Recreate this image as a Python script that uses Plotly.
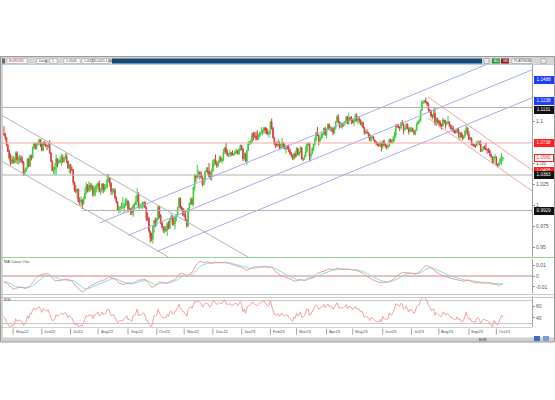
import plotly.graph_objects as go
import pandas as pd

# ---------------- data: EUR/USD daily candles ----------------
start_date = "2022-04-21"

# closes before the first drawn bar (Mar 1 - Apr 20 2022), only used to warm up the indicators
warmup_closes = [
    1.112, 1.112, 1.106, 1.093, 1.086, 1.090, 1.107, 1.098, 1.091, 1.094, 1.095, 1.104, 1.109, 1.105,
    1.102, 1.102, 1.100, 1.100, 1.098, 1.098, 1.109, 1.116, 1.107, 1.105, 1.097, 1.091, 1.090, 1.088,
    1.088, 1.089, 1.083, 1.089, 1.081, 1.081, 1.078, 1.079, 1.085,
]

opens = [
    1.085, 1.084, 1.080, 1.071, 1.064, 1.056, 1.050,
    1.054, 1.051, 1.053, 1.062, 1.054, 1.055, 1.056, 1.053, 1.051, 1.038, 1.041, 1.044, 1.055, 1.046, 1.059, 1.056, 1.069, 1.073, 1.068, 1.073, 1.073, 1.078,
    1.073, 1.065, 1.075, 1.072, 1.070, 1.070, 1.072, 1.062, 1.052, 1.041, 1.042, 1.045, 1.055, 1.050, 1.051, 1.054, 1.057, 1.052, 1.055, 1.058, 1.052, 1.044,
    1.048, 1.043, 1.042, 1.027, 1.018, 1.016, 1.019, 1.004, 1.004, 1.006, 1.002, 1.008, 1.014, 1.023, 1.018, 1.023, 1.021, 1.022, 1.012, 1.020, 1.020,
    1.022, 1.026, 1.016, 1.019, 1.025, 1.018, 1.020, 1.021, 1.030, 1.032, 1.026, 1.016, 1.017, 1.018, 1.009, 1.004, 0.994, 0.997, 0.997, 0.997, 0.997, 1.000, 1.002,
    1.005, 0.995, 0.996, 0.993, 0.991, 1.000, 1.000, 1.004, 1.012, 0.997, 0.998, 1.000, 1.001, 1.003, 0.997, 0.984, 0.984, 0.969, 0.961, 0.959, 0.974, 0.982,
    0.980, 0.983, 0.998, 0.988, 0.979, 0.974, 0.970, 0.971, 0.970, 0.978, 0.972, 0.984, 0.986, 0.978, 0.978, 0.986, 0.988, 0.997, 1.008, 0.997, 0.996,
    0.988, 0.988, 0.982, 0.975, 0.996, 1.002, 1.007, 1.001, 1.021, 1.035, 1.033, 1.035, 1.039, 1.036, 1.033, 1.024, 1.031, 1.040, 1.041, 1.040, 1.034, 1.033,
    1.041, 1.052, 1.054, 1.049, 1.047, 1.051, 1.056, 1.053, 1.054, 1.063, 1.068, 1.063, 1.059, 1.061, 1.062, 1.060, 1.060, 1.061, 1.064, 1.064, 1.061, 1.066,
    1.071, 1.067, 1.055, 1.061, 1.052, 1.065, 1.073, 1.074, 1.076, 1.085, 1.083, 1.082, 1.079, 1.079, 1.083, 1.086, 1.087, 1.089, 1.092, 1.089, 1.087, 1.085,
    1.086, 1.099, 1.091, 1.080, 1.073, 1.073, 1.071, 1.074, 1.068, 1.072, 1.074, 1.069, 1.067, 1.070, 1.069, 1.065, 1.061, 1.059, 1.055, 1.061,
    1.058, 1.067, 1.060, 1.063, 1.068, 1.055, 1.055, 1.058, 1.064, 1.073, 1.073, 1.058, 1.061, 1.067, 1.072, 1.077, 1.086, 1.083, 1.076, 1.080, 1.084, 1.084, 1.091,
    1.084, 1.090, 1.096, 1.091, 1.092, 1.091, 1.086, 1.092, 1.099, 1.105, 1.099, 1.093, 1.097, 1.096, 1.097, 1.099, 1.105, 1.097, 1.104, 1.103,
    1.102, 1.098, 1.100, 1.106, 1.101, 1.102, 1.101, 1.096, 1.098, 1.092, 1.085, 1.087, 1.086, 1.084, 1.077, 1.081, 1.081, 1.077, 1.075, 1.073, 1.072, 1.071, 1.074,
    1.069, 1.076, 1.071, 1.071, 1.069, 1.070, 1.078, 1.075, 1.075, 1.079, 1.083, 1.095, 1.094, 1.092, 1.092, 1.098, 1.096, 1.090, 1.091, 1.096, 1.091, 1.087,
    1.091, 1.091, 1.088, 1.085, 1.089, 1.097, 1.100, 1.101, 1.113, 1.123, 1.123, 1.124, 1.122, 1.120, 1.113, 1.112, 1.106, 1.106, 1.109, 1.097, 1.102,
    1.100, 1.098, 1.094, 1.094, 1.101, 1.100, 1.096, 1.097, 1.098, 1.095, 1.091, 1.091, 1.088, 1.087, 1.087, 1.090, 1.085, 1.086, 1.081, 1.080, 1.082, 1.088, 1.092,
    1.084, 1.078, 1.080, 1.072, 1.072, 1.070, 1.070, 1.075, 1.075, 1.073, 1.064, 1.066, 1.069, 1.068, 1.066, 1.066, 1.065, 1.060, 1.057, 1.050, 1.057,
    1.057, 1.048, 1.047, 1.050, 1.055, 1.055,
]

highs = [
    1.094, 1.086, 1.081, 1.073, 1.066, 1.061, 1.059,
    1.058, 1.057, 1.064, 1.064, 1.058, 1.060, 1.059, 1.058, 1.052, 1.043, 1.045, 1.056, 1.056, 1.060, 1.060, 1.069, 1.075, 1.074, 1.074, 1.076, 1.079, 1.078,
    1.074, 1.075, 1.076, 1.075, 1.072, 1.075, 1.077, 1.063, 1.053, 1.046, 1.050, 1.060, 1.056, 1.054, 1.058, 1.061, 1.060, 1.057, 1.062, 1.061, 1.053, 1.049,
    1.049, 1.046, 1.043, 1.028, 1.024, 1.020, 1.019, 1.009, 1.010, 1.007, 1.010, 1.020, 1.027, 1.025, 1.028, 1.026, 1.026, 1.024, 1.023, 1.023, 1.025,
    1.027, 1.029, 1.020, 1.026, 1.026, 1.025, 1.025, 1.037, 1.037, 1.033, 1.027, 1.020, 1.020, 1.020, 1.010, 1.004, 0.999, 0.999, 1.003, 1.009, 1.003, 1.008, 1.008,
    1.005, 1.003, 0.996, 0.998, 1.001, 1.003, 1.011, 1.020, 1.015, 1.002, 1.002, 1.004, 1.004, 1.005, 0.998, 0.991, 0.986, 0.969, 0.967, 0.976, 0.982, 0.985,
    0.985, 0.999, 0.999, 0.989, 0.981, 0.974, 0.975, 0.975, 0.980, 0.981, 0.985, 0.990, 0.988, 0.985, 0.987, 0.989, 0.998, 1.009, 1.009, 0.999, 0.997,
    0.995, 0.993, 0.983, 0.997, 1.003, 1.009, 1.009, 1.022, 1.037, 1.036, 1.048, 1.042, 1.040, 1.040, 1.034, 1.032, 1.041, 1.045, 1.045, 1.050, 1.040, 1.043,
    1.054, 1.055, 1.060, 1.052, 1.053, 1.058, 1.059, 1.057, 1.067, 1.069, 1.074, 1.066, 1.062, 1.066, 1.063, 1.065, 1.062, 1.065, 1.067, 1.066, 1.068, 1.072,
    1.071, 1.068, 1.063, 1.062, 1.066, 1.076, 1.076, 1.078, 1.086, 1.087, 1.087, 1.087, 1.089, 1.085, 1.087, 1.093, 1.090, 1.093, 1.093, 1.092, 1.091, 1.088,
    1.100, 1.103, 1.093, 1.080, 1.075, 1.076, 1.079, 1.076, 1.073, 1.080, 1.075, 1.073, 1.071, 1.071, 1.072, 1.067, 1.063, 1.060, 1.062, 1.064,
    1.069, 1.068, 1.064, 1.070, 1.069, 1.056, 1.060, 1.070, 1.074, 1.075, 1.074, 1.062, 1.069, 1.073, 1.080, 1.087, 1.093, 1.084, 1.081, 1.086, 1.086, 1.092, 1.093,
    1.091, 1.097, 1.097, 1.094, 1.093, 1.092, 1.093, 1.100, 1.107, 1.108, 1.099, 1.099, 1.098, 1.099, 1.100, 1.106, 1.106, 1.110, 1.105, 1.106,
    1.103, 1.103, 1.109, 1.109, 1.106, 1.105, 1.102, 1.100, 1.099, 1.093, 1.089, 1.090, 1.087, 1.085, 1.083, 1.083, 1.082, 1.078, 1.076, 1.075, 1.074, 1.076, 1.074,
    1.077, 1.078, 1.074, 1.072, 1.072, 1.079, 1.079, 1.078, 1.082, 1.087, 1.096, 1.097, 1.095, 1.094, 1.099, 1.101, 1.097, 1.093, 1.098, 1.097, 1.093, 1.093,
    1.093, 1.092, 1.089, 1.090, 1.098, 1.100, 1.103, 1.113, 1.124, 1.125, 1.125, 1.128, 1.123, 1.122, 1.114, 1.113, 1.108, 1.115, 1.115, 1.105, 1.104,
    1.101, 1.101, 1.097, 1.104, 1.102, 1.101, 1.100, 1.106, 1.100, 1.096, 1.095, 1.094, 1.089, 1.090, 1.091, 1.092, 1.087, 1.087, 1.085, 1.083, 1.089, 1.095, 1.092,
    1.088, 1.081, 1.080, 1.074, 1.073, 1.072, 1.076, 1.077, 1.076, 1.077, 1.067, 1.070, 1.071, 1.074, 1.067, 1.068, 1.066, 1.061, 1.058, 1.058, 1.061,
    1.058, 1.049, 1.051, 1.056, 1.062, 1.057,
]

lows = [
    1.082, 1.077, 1.070, 1.063, 1.054, 1.047, 1.049,
    1.049, 1.049, 1.050, 1.049, 1.048, 1.050, 1.050, 1.049, 1.035, 1.035, 1.039, 1.043, 1.045, 1.046, 1.053, 1.056, 1.066, 1.066, 1.066, 1.071, 1.071, 1.069,
    1.064, 1.064, 1.071, 1.069, 1.065, 1.068, 1.061, 1.051, 1.040, 1.037, 1.036, 1.036, 1.045, 1.049, 1.050, 1.047, 1.050, 1.050, 1.055, 1.050, 1.043, 1.038,
    1.037, 1.040, 1.024, 1.016, 1.014, 1.007, 1.003, 1.000, 0.999, 0.995, 1.000, 1.007, 1.013, 1.015, 1.015, 1.016, 1.018, 1.010, 1.010, 1.011, 1.015,
    1.018, 1.015, 1.012, 1.015, 1.014, 1.016, 1.018, 1.020, 1.027, 1.022, 1.012, 1.012, 1.014, 1.007, 1.002, 0.993, 0.990, 0.991, 0.995, 0.995, 0.990, 0.998, 0.999,
    0.991, 0.994, 0.988, 0.988, 0.986, 0.993, 1.000, 1.004, 0.996, 0.995, 0.996, 0.995, 0.997, 0.996, 0.981, 0.981, 0.967, 0.955, 0.957, 0.954, 0.967, 0.974,
    0.975, 0.982, 0.984, 0.977, 0.972, 0.967, 0.966, 0.968, 0.963, 0.971, 0.972, 0.982, 0.976, 0.975, 0.971, 0.981, 0.986, 0.996, 0.995, 0.993, 0.987,
    0.985, 0.981, 0.973, 0.974, 0.992, 1.000, 1.000, 0.998, 1.017, 1.027, 1.031, 1.033, 1.030, 1.032, 1.022, 1.024, 1.027, 1.039, 1.037, 1.033, 1.030, 1.029,
    1.039, 1.046, 1.048, 1.044, 1.045, 1.050, 1.051, 1.049, 1.052, 1.061, 1.060, 1.058, 1.057, 1.057, 1.058, 1.059, 1.058, 1.060, 1.061, 1.060, 1.060, 1.064,
    1.065, 1.052, 1.054, 1.051, 1.048, 1.064, 1.071, 1.072, 1.073, 1.077, 1.080, 1.077, 1.077, 1.078, 1.081, 1.085, 1.083, 1.085, 1.085, 1.084, 1.083, 1.080,
    1.084, 1.090, 1.079, 1.071, 1.068, 1.069, 1.070, 1.066, 1.066, 1.068, 1.067, 1.066, 1.061, 1.066, 1.063, 1.060, 1.057, 1.054, 1.053, 1.056,
    1.057, 1.059, 1.058, 1.062, 1.054, 1.052, 1.054, 1.057, 1.062, 1.070, 1.052, 1.054, 1.060, 1.064, 1.070, 1.076, 1.082, 1.071, 1.075, 1.078, 1.080, 1.083, 1.082,
    1.079, 1.089, 1.089, 1.088, 1.087, 1.083, 1.085, 1.090, 1.098, 1.097, 1.091, 1.092, 1.091, 1.093, 1.094, 1.097, 1.096, 1.096, 1.100, 1.096,
    1.097, 1.094, 1.099, 1.099, 1.096, 1.098, 1.095, 1.093, 1.091, 1.084, 1.084, 1.085, 1.080, 1.076, 1.075, 1.079, 1.076, 1.074, 1.071, 1.070, 1.069, 1.069, 1.064,
    1.067, 1.070, 1.068, 1.066, 1.067, 1.069, 1.074, 1.073, 1.074, 1.076, 1.080, 1.092, 1.091, 1.088, 1.090, 1.095, 1.084, 1.088, 1.090, 1.090, 1.084, 1.087,
    1.087, 1.087, 1.083, 1.083, 1.088, 1.095, 1.097, 1.099, 1.112, 1.120, 1.121, 1.121, 1.118, 1.111, 1.110, 1.104, 1.102, 1.104, 1.095, 1.094, 1.097,
    1.094, 1.092, 1.090, 1.093, 1.097, 1.091, 1.095, 1.097, 1.093, 1.090, 1.088, 1.086, 1.085, 1.085, 1.086, 1.080, 1.077, 1.080, 1.077, 1.078, 1.080, 1.085, 1.083,
    1.077, 1.077, 1.071, 1.070, 1.069, 1.068, 1.070, 1.072, 1.071, 1.063, 1.063, 1.065, 1.066, 1.065, 1.061, 1.062, 1.058, 1.057, 1.049, 1.049, 1.055,
    1.047, 1.045, 1.046, 1.049, 1.048, 1.052,
]

closes = [
    1.084, 1.080, 1.071, 1.064, 1.056, 1.050, 1.054,
    1.051, 1.053, 1.062, 1.054, 1.055, 1.056, 1.053, 1.051, 1.038, 1.041, 1.044, 1.055, 1.046, 1.059, 1.056, 1.069, 1.073, 1.068, 1.073, 1.073, 1.078, 1.073,
    1.065, 1.075, 1.072, 1.070, 1.070, 1.072, 1.062, 1.052, 1.041, 1.042, 1.045, 1.055, 1.050, 1.051, 1.054, 1.057, 1.052, 1.055, 1.058, 1.052, 1.044, 1.048,
    1.043, 1.042, 1.027, 1.018, 1.016, 1.019, 1.004, 1.004, 1.006, 1.002, 1.008, 1.014, 1.023, 1.018, 1.023, 1.021, 1.022, 1.012, 1.020, 1.020, 1.022,
    1.026, 1.016, 1.019, 1.025, 1.018, 1.020, 1.021, 1.030, 1.032, 1.026, 1.016, 1.017, 1.018, 1.009, 1.004, 0.994, 0.997, 0.997, 0.997, 0.997, 1.000, 1.002, 1.005,
    0.995, 0.996, 0.993, 0.991, 1.000, 1.000, 1.004, 1.012, 0.997, 0.998, 1.000, 1.001, 1.003, 0.997, 0.984, 0.984, 0.969, 0.961, 0.959, 0.974, 0.982, 0.980,
    0.983, 0.998, 0.988, 0.979, 0.974, 0.970, 0.971, 0.970, 0.978, 0.972, 0.984, 0.986, 0.978, 0.978, 0.986, 0.988, 0.997, 1.008, 0.997, 0.996, 0.988,
    0.988, 0.982, 0.975, 0.996, 1.002, 1.007, 1.001, 1.021, 1.035, 1.033, 1.035, 1.039, 1.036, 1.033, 1.024, 1.031, 1.040, 1.041, 1.040, 1.034, 1.033, 1.041,
    1.052, 1.054, 1.049, 1.047, 1.051, 1.056, 1.053, 1.054, 1.063, 1.068, 1.063, 1.059, 1.061, 1.062, 1.060, 1.060, 1.061, 1.064, 1.064, 1.061, 1.066, 1.071,
    1.067, 1.055, 1.061, 1.052, 1.065, 1.073, 1.074, 1.076, 1.085, 1.083, 1.082, 1.079, 1.079, 1.083, 1.086, 1.087, 1.089, 1.092, 1.089, 1.087, 1.085, 1.086,
    1.099, 1.091, 1.080, 1.073, 1.073, 1.071, 1.074, 1.068, 1.072, 1.074, 1.069, 1.067, 1.070, 1.069, 1.065, 1.061, 1.059, 1.055, 1.061, 1.058,
    1.067, 1.060, 1.063, 1.068, 1.055, 1.055, 1.058, 1.064, 1.073, 1.073, 1.058, 1.061, 1.067, 1.072, 1.077, 1.086, 1.083, 1.076, 1.080, 1.084, 1.084, 1.091, 1.084,
    1.090, 1.096, 1.091, 1.092, 1.091, 1.086, 1.092, 1.099, 1.105, 1.099, 1.093, 1.097, 1.096, 1.097, 1.099, 1.105, 1.097, 1.104, 1.103, 1.102,
    1.098, 1.100, 1.106, 1.101, 1.102, 1.101, 1.096, 1.098, 1.092, 1.085, 1.087, 1.086, 1.084, 1.077, 1.081, 1.081, 1.077, 1.075, 1.073, 1.072, 1.071, 1.074, 1.069,
    1.076, 1.071, 1.071, 1.069, 1.070, 1.078, 1.075, 1.075, 1.079, 1.083, 1.095, 1.094, 1.092, 1.092, 1.098, 1.096, 1.090, 1.091, 1.096, 1.091, 1.087, 1.091,
    1.091, 1.088, 1.085, 1.089, 1.097, 1.100, 1.101, 1.113, 1.123, 1.123, 1.124, 1.122, 1.120, 1.113, 1.112, 1.106, 1.106, 1.109, 1.097, 1.102, 1.100,
    1.098, 1.094, 1.094, 1.101, 1.100, 1.096, 1.097, 1.098, 1.095, 1.091, 1.091, 1.088, 1.087, 1.087, 1.090, 1.085, 1.086, 1.081, 1.080, 1.082, 1.088, 1.092, 1.084,
    1.078, 1.080, 1.072, 1.072, 1.070, 1.070, 1.075, 1.075, 1.073, 1.064, 1.066, 1.069, 1.068, 1.066, 1.066, 1.065, 1.060, 1.057, 1.050, 1.057, 1.057,
    1.048, 1.047, 1.050, 1.055, 1.059, 1.056,
]

# month labels of the time axis
month_labels = ["May22", "Jun22", "Jul22", "Aug22", "Sep22", "Oct22", "Nov22", "Dec22", "Jan23",
                "Feb23", "Mar23", "Apr23", "May23", "Jun23", "Jul23", "Aug23", "Sep23", "Oct23"]

# price-axis ticks (the 1.075 / 1.125 / 1.15 labels sit under the price boxes)
price_ticks = [0.95, 0.975, 1.0, 1.025, 1.05, 1.1]
price_tick_text = ["0.95", "0.975", "1", "1.025", "1.05", "1.1"]
osc_ticks = [-0.01, 0.0, 0.01]
osc_tick_text = ["-0.01", "0", "0.01"]
rsi_ticks = [40, 60]
rsi_tick_text = ["40", "60"]
rsi_levels = [30, 70]
osc_zero = 0.0

# drawn trend lines: (bar index, price) end points
down_channel_x = [[-1.5, 187.0], [-1.5, 126.0]]
down_channel_y = [[1.1066, 0.9380], [1.0519, 0.9380]]
up_channel_x = [[73.5, 372.2], [94.9, 404.3], [117.2, 404.3]]
up_channel_y = [[0.9788, 1.1690], [0.9638, 1.1609], [0.9447, 1.1276]]
pink_channel_x = [[324.7, 404.3], [324.7, 404.3]]
pink_channel_y = [[1.1286, 1.0417], [1.1036, 1.0167]]
# horizontal levels: price, first bar index, colour key
level_prices = [1.1161, 1.0738, 1.0357, 0.9935]
level_start = [-1.5, -1.5, -1.5, 60.0]
level_kind = ["gray", "pink", "gray", "gray"]
# price boxes on the right axis (None = last close)
box_values = [1.1488, 1.1238, 1.1131, 1.0738, None, 1.0405, 1.0363, 0.9929]
box_kind = ["blue", "blue", "black", "red", "last", "red", "black", "black"]

# ---------------- build ----------------
n = min(len(opens), len(highs), len(lows), len(closes))
dates = pd.bdate_range(start_date, periods=n)
bars = list(range(n))

full = pd.Series(warmup_closes + closes[:n])
ema12 = full.ewm(span=12, adjust=False).mean()
ema26 = full.ewm(span=26, adjust=False).mean()
macd = ema12 - ema26
signal = macd.ewm(span=9, adjust=False).mean()
delta = full.diff()
gain = delta.clip(lower=0).ewm(alpha=1 / 14, adjust=False).mean()
loss = (-delta.clip(upper=0)).ewm(alpha=1 / 14, adjust=False).mean()
rsi = 100 - 100 / (1 + gain / loss)
w = len(warmup_closes)
macd_v = macd.iloc[w:].tolist()
signal_v = signal.iloc[w:].tolist()
rsi_v = rsi.iloc[w:].tolist()

W, H = 555, 400
def px(x):
    return x / W
def py(y):
    return 1 - y / H

X_LO, X_HI = -1.5, 404.3
FONT = "Liberation Sans, Arial, sans-serif"

fig = go.Figure()

# trend lines (under candles)
for xs, ys in zip(down_channel_x, down_channel_y):
    fig.add_trace(go.Scatter(x=xs, y=ys, mode="lines", line=dict(color="#b4b4b4", width=1), hoverinfo="skip"))
for xs, ys in zip(up_channel_x, up_channel_y):
    fig.add_trace(go.Scatter(x=xs, y=ys, mode="lines", line=dict(color="#a9a9f0", width=1), hoverinfo="skip"))
for xs, ys in zip(pink_channel_x, pink_channel_y):
    fig.add_trace(go.Scatter(x=xs, y=ys, mode="lines", line=dict(color="#f2a6a6", width=1), hoverinfo="skip"))
level_col = {"gray": "#b0b0b0", "pink": "#f5a8a8"}
for p, s, k in zip(level_prices, level_start, level_kind):
    fig.add_trace(go.Scatter(x=[s, X_HI], y=[p, p], mode="lines",
                             line=dict(color=level_col[k], width=1), hoverinfo="skip"))

fig.add_trace(go.Candlestick(
    x=bars, open=opens[:n], high=highs[:n], low=lows[:n], close=closes[:n],
    increasing=dict(line=dict(color="#3ccf3c", width=1), fillcolor="#3ccf3c"),
    decreasing=dict(line=dict(color="#dc3c3c", width=1), fillcolor="#dc3c3c"),
    whiskerwidth=0, hoverinfo="skip", xaxis="x", yaxis="y"))

# oscillator panel
fig.add_trace(go.Scatter(x=[X_LO, X_HI], y=[osc_zero, osc_zero], mode="lines",
                         line=dict(color="#cf8080", width=1), xaxis="x2", yaxis="y2", hoverinfo="skip"))
fig.add_trace(go.Scatter(x=bars, y=signal_v, mode="lines", line=dict(color="#86e0e6", width=1),
                         xaxis="x2", yaxis="y2", hoverinfo="skip"))
fig.add_trace(go.Scatter(x=bars, y=macd_v, mode="lines", line=dict(color="#f29a9a", width=1),
                         xaxis="x2", yaxis="y2", hoverinfo="skip"))
# RSI panel
for lv in rsi_levels:
    fig.add_trace(go.Scatter(x=[X_LO, X_HI], y=[lv, lv], mode="lines", line=dict(color="#c4c4c4", width=1),
                             xaxis="x3", yaxis="y3", hoverinfo="skip"))
fig.add_trace(go.Scatter(x=bars, y=rsi_v, mode="lines", line=dict(color="#f4a0a0", width=1),
                         xaxis="x3", yaxis="y3", hoverinfo="skip"))

xdom = [px(2), px(532)]
axis_common = dict(showgrid=False, zeroline=False)
xa = dict(domain=xdom, range=[X_LO, X_HI], showticklabels=False, showline=False, ticks="", **axis_common)
ya = dict(side="right", ticks="outside", ticklen=2, tickcolor="#999", showline=True, linecolor="#a0a0a0",
          linewidth=1, tickfont=dict(size=5, color="#555", family=FONT), **axis_common)

fig.update_layout(
    width=W, height=H, margin=dict(l=0, r=0, t=0, b=0),
    paper_bgcolor="white", plot_bgcolor="white", showlegend=False,
    xaxis=dict(anchor="y", rangeslider=dict(visible=False), **xa),
    xaxis2=dict(anchor="y2", **xa),
    xaxis3=dict(anchor="y3", **xa),
    yaxis=dict(anchor="x", domain=[py(257), py(63)], range=[0.9381, 1.16905],
               tickvals=price_ticks, ticktext=price_tick_text, **ya),
    yaxis2=dict(anchor="x2", domain=[py(293), py(259)], range=[-0.0155, 0.0155],
                tickvals=osc_ticks, ticktext=osc_tick_text, **ya),
    yaxis3=dict(anchor="x3", domain=[py(327), py(296)], range=[24, 78],
                tickvals=rsi_ticks, ticktext=rsi_tick_text, **ya),
)

shapes = []
def rect(x0, y0, x1, y1, fill, line=None, lw=0):
    shapes.append(dict(type="rect", xref="paper", yref="paper", x0=px(x0), x1=px(x1), y0=py(y1), y1=py(y0),
                       fillcolor=fill, line=dict(color=line or fill, width=lw), layer="above"))
def hline(x0, x1, y, color, lw=1):
    shapes.append(dict(type="line", xref="paper", yref="paper", x0=px(x0), x1=px(x1), y0=py(y), y1=py(y),
                       line=dict(color=color, width=lw), layer="above"))
def vline(x, y0, y1, color, lw=1):
    shapes.append(dict(type="line", xref="paper", yref="paper", x0=px(x), x1=px(x), y0=py(y0), y1=py(y1),
                       line=dict(color=color, width=lw), layer="above"))

# window chrome
rect(0, 56.5, 555, 64.5, "#d6d6d6")
rect(112, 58.5, 482, 63.5, "#0f4c7c")
hline(0, 555, 64.5, "#b9cfe0")
for a, b in [(7, 27), (37, 46), (50, 57), (64, 80), (82, 92), (93, 109)]:
    rect(a, 58.5, b, 63.5, "white", "#9a9a9a", 0.5)
rect(2, 58.5, 5, 63.5, "#6a6a6a")
rect(484, 58.5, 489, 63.5, "#e8e8e8", "#888", 0.5)
rect(492, 58.5, 500, 63.5, "#2c9a3c")
rect(501, 58.5, 509, 63.5, "#8c1c1c")
rect(512, 58.5, 531, 63.5, "white", "#888", 0.5)
rect(541, 58.5, 546, 63.5, "#e8e8e8", "#888", 0.5)
hline(0, 555, 257.5, "#93d493")
hline(0, 555, 294.5, "#c8c8c8")
hline(0, 555, 297.5, "#c8c8c8")
hline(0, 532, 327.5, "#d0d0d0")
rect(0, 337.5, 555, 342, "#d0d0d0")
rect(534, 336, 540, 341, "#3b6fc4")
rect(543, 336, 549, 341, "#7aa0dc")
vline(2, 64.5, 337.5, "#a8a8a8")
shapes.append(dict(type="rect", xref="paper", yref="paper", x0=px(0.5), x1=px(554.5), y0=py(342), y1=py(56.5),
                   line=dict(color="#9a9a9a", width=1), fillcolor="rgba(0,0,0,0)", layer="above"))

annotations = []
def text(x, y, s, size=4, color="#333", xref="paper", anchor="left"):
    annotations.append(dict(x=x if xref != "paper" else px(x), y=py(y), xref=xref, yref="paper", text=s,
                            showarrow=False, xanchor=anchor, yanchor="middle",
                            font=dict(size=size, color=color, family=FONT), borderpad=0))

text(8, 61, "EURUSD", 3.6, "#c81e1e")
text(38, 61, "Daily", 3.6, "#333")
text(51, 61, "1", 3.6, "#333")
text(65, 61, "1.0545", 3.6, "#333")
text(83, 61, "1.0573", 3.6, "#333")
text(94, 61, "1.0521 1.0560", 3.2, "#333")
text(513, 61, "PLATINUM", 3.4, "#333")
text(493, 61, "ALL", 3.2, "white")
text(502, 61, "SELL", 3.0, "white")
text(3, 261, "MA Cross Osc", 4, "#444")
text(3, 299.5, "RSI", 4, "#444")
text(478, 339.5, "EUR", 3.6, "#333")

# month ticks and labels on the time axis
for lab in month_labels:
    m = pd.to_datetime(lab, format="%b%y")
    pos = next(i for i, d in enumerate(dates) if d.year == m.year and d.month == m.month)
    shapes.append(dict(type="line", xref="x", yref="paper", x0=pos, x1=pos, y0=py(334.5), y1=py(328.5),
                       line=dict(color="#a0a0a0", width=1), layer="above"))
    text(pos + 1.2, 331.5, lab, 4.2, "#555", xref="x")

# price boxes on the right axis
box_style = {"blue": ("#1f3fff", None, "white"), "black": ("#111111", None, "white"),
             "red": ("#ff2020", None, "white"), "last": ("white", "#ff2020", "#ff2020")}
for v, k in zip(box_values, box_kind):
    val = closes[n - 1] if v is None else v
    bg, bd, fc = box_style[k]
    annotations.append(dict(x=px(533.5), y=val, xref="paper", yref="y", text="%.4f" % val, showarrow=False,
                            xanchor="left", yanchor="middle", font=dict(size=4.6, color=fc, family=FONT),
                            bgcolor=bg, bordercolor=bd or bg, borderwidth=1, borderpad=0.3, width=17))

fig.update_layout(shapes=shapes, annotations=annotations)
fig.write_html("out.html", config={"displayModeBar": False},
               post_script="document.body.style.margin='0';document.body.style.overflow='hidden';")
